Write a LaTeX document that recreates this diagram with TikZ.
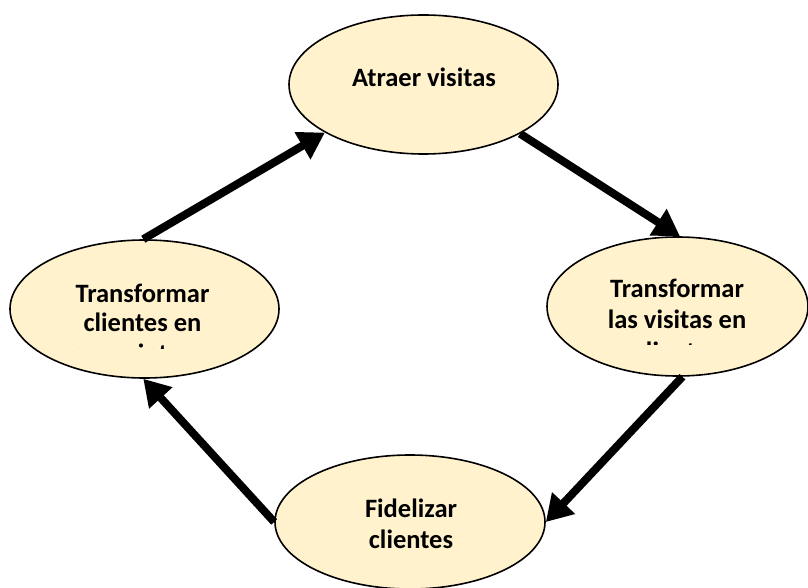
\documentclass[tikz,border=0pt]{standalone}
\usepackage{fontspec}
\setmainfont{Carlito}
\usetikzlibrary{arrows.meta,shapes.geometric}
\definecolor{stagefill}{RGB}{255,242,204}
\begin{document}
\begin{tikzpicture}[x=1pt,y=-1pt,
  stage/.style={ellipse, draw=black, line width=1.6pt, fill=stagefill, inner sep=0pt},
  caption/.style={anchor=base, font=\fontsize{26.5}{31}\selectfont\bfseries, inner sep=0pt},
  flow/.style={line width=8pt, -{Triangle[length=26pt,width=30pt]}}]
\useasboundingbox (0,0) rectangle (808,588);

% the four stages of the cycle
\node[stage, minimum width=269pt, minimum height=139pt] (atraer) at (423.5,84.5) {};
\node[stage, minimum width=261pt, minimum height=139pt] (convertir) at (677.5,306.5) {};
\node[stage, minimum width=269pt, minimum height=138pt] (transformar) at (144.5,309) {};
\node[stage, minimum width=270pt, minimum height=134pt] (fidelizar) at (410,522) {};

% stage captions
\node[caption] (atraer-t) at (424,87) {Atraer visitas};
\node[caption] (convertir-t1) at (677,297) {Transformar};
\node[caption] (convertir-t2) at (677,328) {las visitas en};
\node[caption] (transformar-t1) at (142.5,302) {Transformar};
\node[caption] (transformar-t2) at (142.5,331) {clientes en};
\node[caption] (fidelizar-t1) at (411,517) {Fidelizar};
\node[caption] (fidelizar-t2) at (411,548) {clientes};

% third caption lines cut off by their text boxes
\begin{scope}
  \clip (550,334) rectangle (805,344);
  \node[caption] (convertir-t3) at (677,360.5) {clientes};
\end{scope}
\begin{scope}
  \clip (12,338) rectangle (276,348);
  \node[caption] (transformar-t3) at (142.5,362.5) {prescriptores};
\end{scope}

% cycle arrows
\draw[flow] (transformar.91) -- (atraer.206.9);
\draw[flow] (atraer.333.3) -- (convertir.88);
\draw[flow] (convertir.274) -- (fidelizar.0);
\draw[flow] (fidelizar.180) -- (transformar.269);
\end{tikzpicture}
\end{document}
